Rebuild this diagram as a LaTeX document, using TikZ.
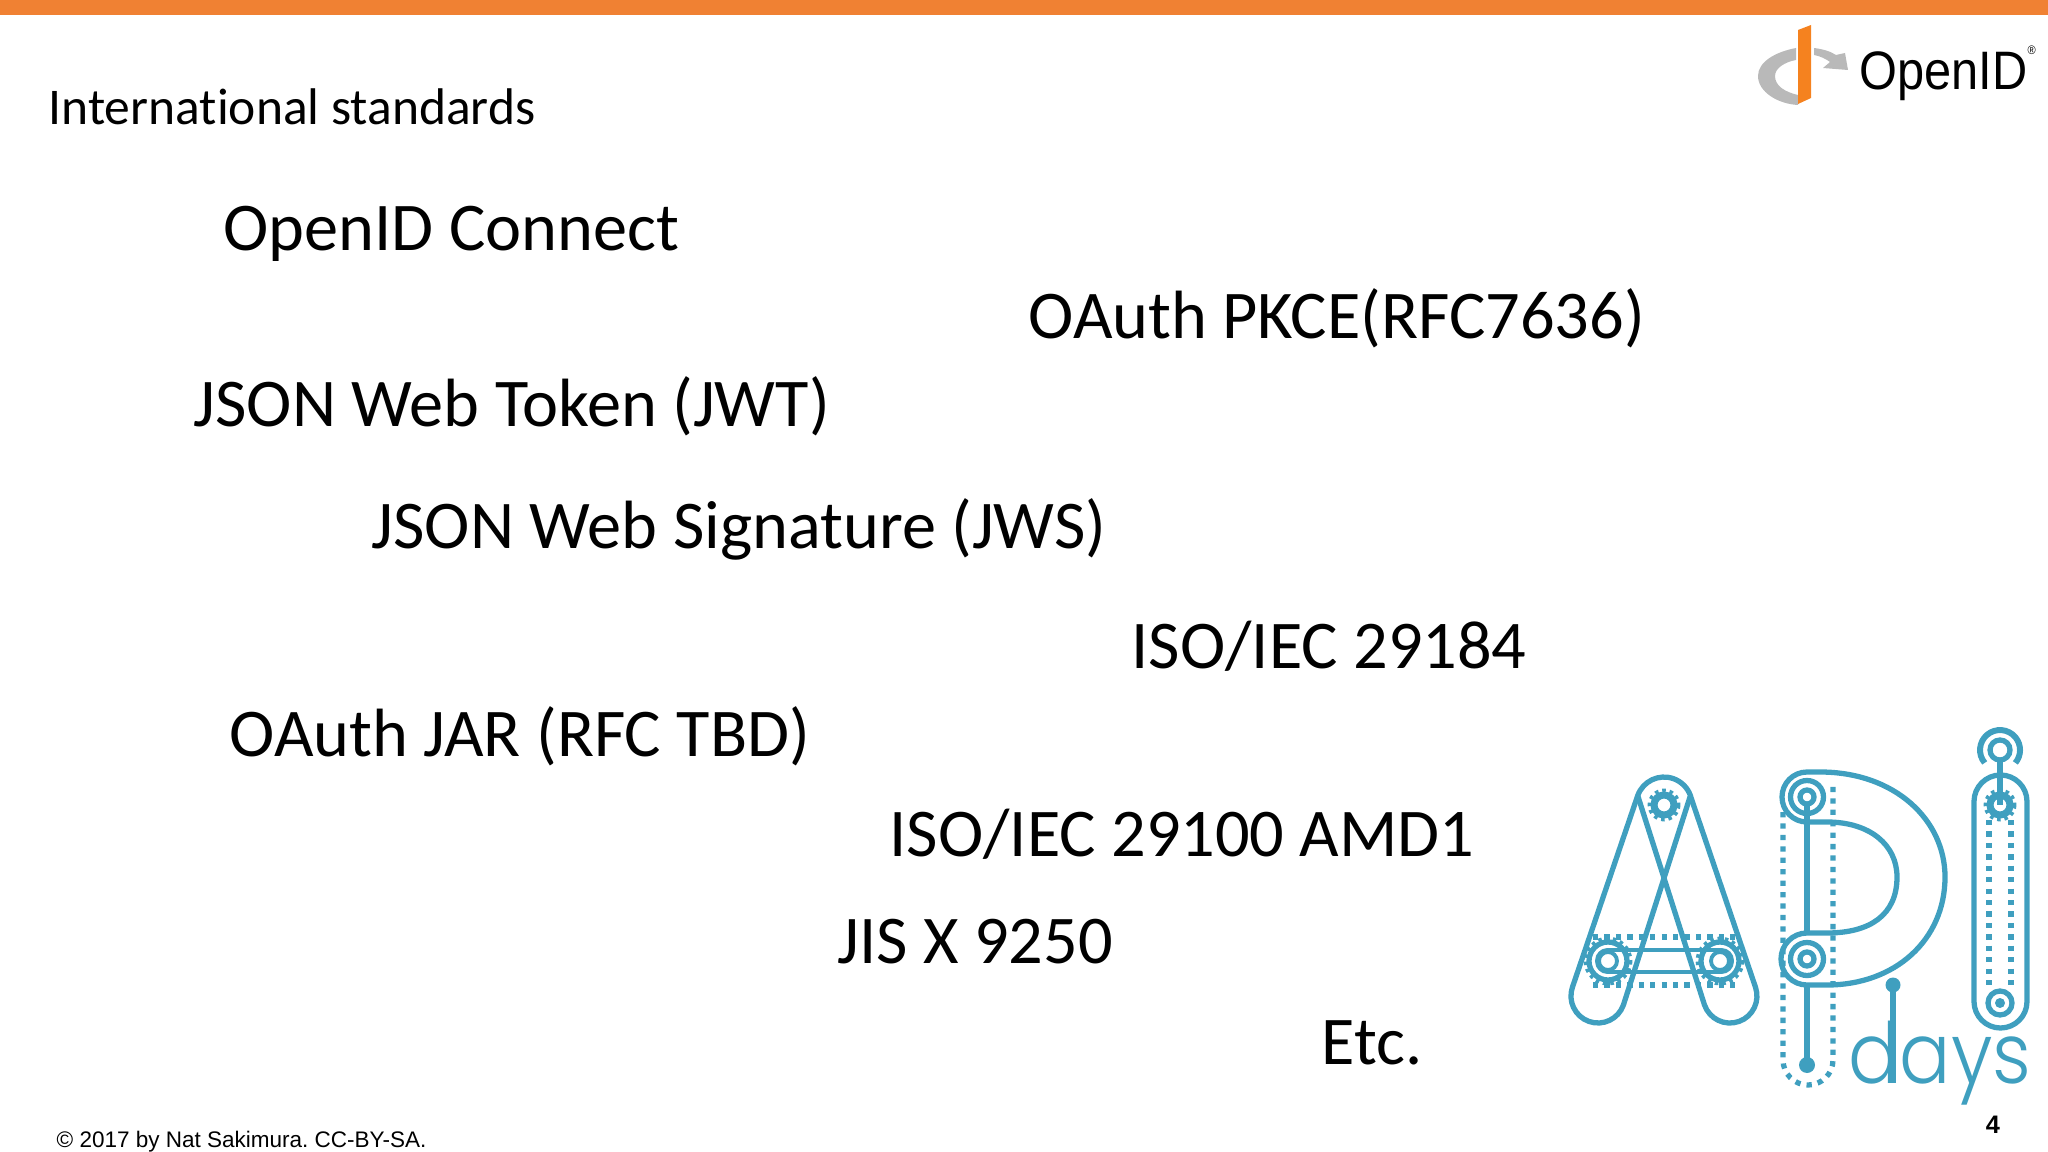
\documentclass[tikz,border=0pt]{standalone}
\usepackage{fontspec}
\setmainfont[Ligatures=CommonOff]{Carlito}
\newfontfamily\footfont{Liberation Sans}
\newfontfamily\daysfont{Poppins Light}
\definecolor{barorange}{HTML}{F08133}
\definecolor{logoorange}{HTML}{F5821F}
\definecolor{logogrey}{HTML}{B9B9B9}
\definecolor{apiblue}{HTML}{3F9FBF}
\tikzset{
	slidetext/.style={anchor=base west,inner sep=0pt,text=black,font=\fontsize{19.42}{24}\selectfont},
	belt/.style={draw=apiblue,line width=1.5pt},
	thinbelt/.style={draw=apiblue,line width=1.1pt},
	dotbelt/.style={draw=apiblue,line width=1.5pt,dash pattern=on 1.5pt off 1.75pt},
}
\def\gearwheel(#1)(#2:#3:#4){
	\draw[draw=apiblue,line width=#3pt] (#1) circle (#2);
	\draw[draw=apiblue,line width=1.1pt,dash pattern=on 1pt off 1.1pt] (#1) circle (#4);
}

\begin{document}
\begin{tikzpicture}[x=0.01cm,y=-0.01cm]
	\useasboundingbox (0,0) rectangle (2048,1152);
	%%%%% START %%%%%
	\fill[barorange] (0,0) rectangle (2048,15);

	\node[slidetext,font=\fontsize{14.65}{18}\selectfont] (title) at (48,125) {International standards};
	\node[slidetext] (connect) at (223,251) {OpenID Connect};
	\node[slidetext] (pkce) at (1028,339) {OAuth PKCE(RFC7636)};
	\node[slidetext] (jwt) at (193,427) {JSON Web Token (JWT)};
	\node[slidetext] (jws) at (371,548) {JSON Web Signature (JWS)};
	\node[slidetext] (iso184) at (1131,669) {ISO/IEC 29184};
	\node[slidetext] (jar) at (229,756) {OAuth JAR (RFC TBD)};
	\node[slidetext] (amd) at (889,856) {ISO/IEC 29100 AMD1};
	\node[slidetext] (jis) at (837,963) {JIS X 9250};
	\node[slidetext] (etc) at (1321,1064) {Etc.};
	\node[slidetext,font=\footfont\fontsize{6.4}{8}\selectfont] (copyright) at (56,1147) {\frenchspacing © 2017 by Nat Sakimura. CC-BY-SA.};
	\node[anchor=base,inner sep=0pt,font=\footfont\bfseries\fontsize{7.2}{9}\selectfont] (pagenum) at (1993,1133) {4};

	% OpenID logo
	\fill[logogrey] (1796,48) .. controls (1775,52) and (1758,62) .. (1758,76) .. controls (1758,92) and (1778,104) .. (1798,105) -- (1798,95) .. controls (1785,92) and (1775,86) .. (1775,76) .. controls (1775,68) and (1785,62) .. (1796,60) -- cycle;
	\fill[logogrey] (1814,48) .. controls (1822,49) and (1830,51) .. (1836,55) -- (1845,53) -- (1848,70) -- (1823,68) -- (1830,62) .. controls (1826,59) and (1820,56) .. (1814,55) -- cycle;
	\fill[logoorange] (1798,30) -- (1811,25) -- (1811,98) -- (1798,104) -- cycle;
	\node[slidetext,font=\footfont\fontsize{15.4}{18}\selectfont,xscale=0.9] (openid) at (1859,90) {OpenID\raisebox{1.25ex}{\fontsize{3.5}{4}\selectfont ®}};

	% letter A
	\draw[belt] (1637.7,795.6) arc (199.7:340.3:28) -- (1623.4,1005) arc (19.5:199.5:27) -- cycle;
	\draw[belt] (1690.3,795.6) -- (1755.4,987) arc (-19.5:160.5:27) -- (1637.7,795.6);
	\gearwheel(1664,805)(10:2:14.5)
	\draw[dotbelt] (1593,937) -- (1735,937);
	\draw[dotbelt] (1593,985) -- (1735,985);
	\draw[thinbelt,rounded corners=3pt] (1597,950) rectangle (1732,972);
	\gearwheel(1608,961)(19:1.5:22.5)
	\gearwheel(1720,961)(19:1.5:22.5)
	\draw[thinbelt] (1608,961) circle (9);
	\draw[thinbelt] (1720,961) circle (9);

	% letter P
	\draw[belt] (1807,772) -- (1820,772) .. controls (1895,772) and (1945,820) .. (1945,877) .. controls (1945,940) and (1895,985) .. (1827,985) -- (1807,985) arc (90:270:26) -- (1827,933) .. controls (1870,933) and (1897,915) .. (1897,877) .. controls (1897,845) and (1870,822) .. (1827,822) -- (1807,822) arc (90:270:25);
	\draw[belt] (1807,797) circle (16.5);
	\draw[belt] (1807,797) circle (7);
	\draw[belt] (1807,959) circle (16.5);
	\draw[belt] (1807,959) circle (7);
	\draw[belt] (1807,804) -- (1807,933);
	\draw[belt] (1807,985) -- (1807,1065);
	\fill[apiblue] (1807,1065) circle (8);
	\draw[dotbelt] (1783,812) -- (1783,1060) arc (180:0:25) -- (1833,782);

	% letter I
	\draw[belt] (1974,801.5) arc (180:360:26.5) -- (2027,1001.5) arc (0:180:26.5) -- cycle;
	\draw[belt] (2000,750) circle (10);
	\draw[belt,line width=1.7pt] (1984.7,762.9) arc (140:400:20);
	\draw[belt] (2000,760) -- (2000,805);
	\gearwheel(2000,805)(10:2:14.5)
	\draw[dotbelt] (1989,820) -- (1989,987);
	\draw[dotbelt] (2011,820) -- (2011,987);
	\draw[belt] (2000,1003) circle (12);
	\fill[apiblue] (2000,1003) circle (5);

	% days
	\node[anchor=base west,inner sep=0pt,text=apiblue,font=\daysfont\fontsize{24}{28}\selectfont,xscale=0.9] (days) at (1848,1083) {days};
	\fill[apiblue] (1893,985) circle (7.5);
	\draw[belt] (1893,985) -- (1893,1083);
	%%%%% END %%%%%
\end{tikzpicture}
\end{document}
